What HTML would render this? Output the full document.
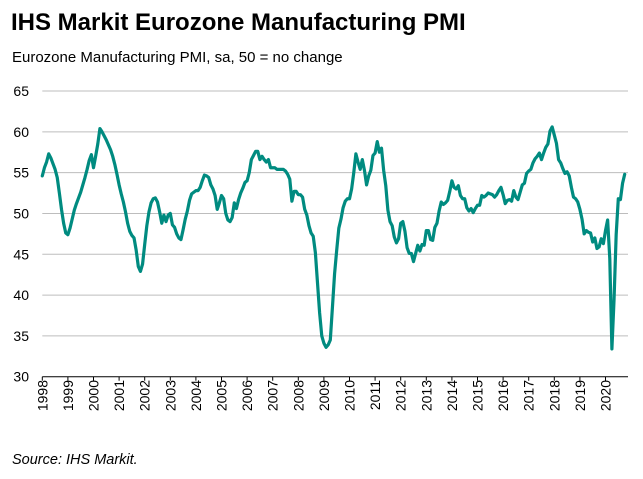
<!DOCTYPE html>
<html><head><meta charset="utf-8"><style>
html,body{margin:0;padding:0;background:#fff;}
body{width:643px;height:474px;overflow:hidden;font-family:"Liberation Sans",Arial,sans-serif;}
</style></head><body>
<svg id="chart" width="643" height="474" xmlns="http://www.w3.org/2000/svg" font-family="Liberation Sans, Arial, sans-serif">
<text x="11" y="30" font-size="24" font-weight="bold" fill="#000">IHS Markit Eurozone Manufacturing PMI</text>
<text x="12" y="62" font-size="15" fill="#000">Eurozone Manufacturing PMI, sa, 50 = no change</text>
<text x="12" y="464" font-size="14.5" font-style="italic" fill="#000">Source: IHS Markit.</text>
<g id="grid"></g><g id="yticks"></g><g id="xaxis"></g><g id="series"></g>
</svg>
<script>
const years = [1998,1999,2000,2001,2002,2003,2004,2005,2006,2007,2008,2009,2010,2011,2012,2013,2014,2015,2016,2017,2018,2019,2020];
const yTickValues = [30,35,40,45,50,55,60,65];
const startYear = 1998;
const pmiValues = [
54.6,55.6,56.3,57.3,56.8,56.1,55.4,54.4,52.5,50.5,48.8,47.6,
47.4,48.2,49.3,50.4,51.2,51.9,52.6,53.5,54.4,55.4,56.5,57.2,
55.6,57.0,58.5,60.4,60.0,59.5,59.0,58.4,57.8,57.0,56.0,54.8,
53.5,52.4,51.4,50.2,48.8,47.8,47.3,47.0,45.5,43.5,42.9,43.8,
46.2,48.5,50.2,51.3,51.8,51.9,51.4,50.2,48.8,49.8,49.0,49.8,
50.0,48.6,48.3,47.5,47.0,46.8,48.0,49.3,50.3,51.6,52.4,52.6,
52.8,52.8,53.2,54.0,54.7,54.6,54.4,53.5,53.0,52.2,50.5,51.3,
52.2,51.8,50.0,49.2,49.0,49.5,51.3,50.6,51.7,52.5,53.1,53.8,
54.0,55.0,56.6,57.1,57.6,57.6,56.6,57.0,56.6,56.3,56.6,55.6,
55.6,55.6,55.4,55.4,55.4,55.4,55.2,54.8,54.2,51.5,52.7,52.7,
52.3,52.3,52.0,50.5,49.8,48.5,47.6,47.2,45.2,41.5,37.8,35.0,
34.1,33.6,33.9,34.5,38.5,42.6,45.5,48.2,49.3,50.7,51.5,51.8,
51.8,53.0,55.0,57.3,56.3,55.4,56.6,55.3,53.5,54.6,55.3,57.1,
57.4,58.8,57.5,58.0,55.3,53.4,50.4,49.0,48.5,47.1,46.4,46.9,
48.8,49.0,47.8,45.8,45.1,45.1,44.1,45.1,46.1,45.4,46.2,46.1,
47.9,47.9,46.8,46.7,48.3,48.8,50.3,51.4,51.1,51.3,51.6,52.7,
54.0,53.2,53.0,53.4,52.2,51.8,51.8,50.7,50.3,50.6,50.1,50.6,
51.0,51.0,52.2,52.0,52.2,52.5,52.4,52.3,52.0,52.3,52.8,53.2,
52.3,51.2,51.6,51.7,51.5,52.8,52.0,51.7,52.6,53.5,53.7,54.9,
55.2,55.4,56.2,56.7,57.0,57.4,56.6,57.4,58.1,58.5,60.1,60.6,
59.6,58.6,56.6,56.2,55.5,54.9,55.1,54.6,53.2,52.0,51.8,51.4,
50.5,49.3,47.5,47.9,47.7,47.6,46.5,47.0,45.7,45.9,46.9,46.3,
47.9,49.2,44.5,33.4,39.4,47.4,51.8,51.7,53.7,54.8
];
const NS = "http://www.w3.org/2000/svg";
const plotL = 42.3, plotR = 628, yearW = 25.6;
function xPos(yearFrac){ return plotL + (yearFrac - startYear) * yearW; }
function yPos(v){ return 376.7 - (v - 30) * (376.7 - 91) / 35; }
function mk(tag, attrs, parent){ const e=document.createElementNS(NS,tag); for(const k in attrs) e.setAttribute(k,attrs[k]); parent.appendChild(e); return e; }
const grid=document.getElementById('grid'), yt=document.getElementById('yticks'), xa=document.getElementById('xaxis'), ser=document.getElementById('series');
yTickValues.forEach(v=>{
  const y=yPos(v);
  if(v>30){
    const l=mk('line',{x1:plotL,x2:plotR,y1:y,y2:y,stroke:'#bdbdbd','stroke-width':1},grid);
    
    
  }
  const t=mk('text',{x:29,y:y+5,'text-anchor':'end','font-size':14,fill:'#000'},yt);
  t.textContent=v;
  
  
});
const ax=mk('line',{x1:plotL,x2:plotR,y1:yPos(30),y2:yPos(30),stroke:'#000','stroke-width':1},xa);


years.forEach(yr=>{
  const x=xPos(yr);
  const tk=mk('line',{x1:x,x2:x,y1:yPos(30),y2:yPos(30)+4,stroke:'#000','stroke-width':1},xa);
  
  
  const t=mk('text',{x:0,y:0,'text-anchor':'end','font-size':14,fill:'#000',transform:'translate('+(x+5)+','+380+') rotate(-90)'},xa);
  t.textContent=yr;
  
  
});
const pts=pmiValues.map((v,i)=>xPos(startYear+i/12).toFixed(2)+','+yPos(v).toFixed(2)).join(' ');
const pl=mk('polyline',{points:pts,fill:'none',stroke:'#008b80','stroke-width':3.2,'stroke-linejoin':'round','stroke-linecap':'round'},ser);


</script>
</body></html>
